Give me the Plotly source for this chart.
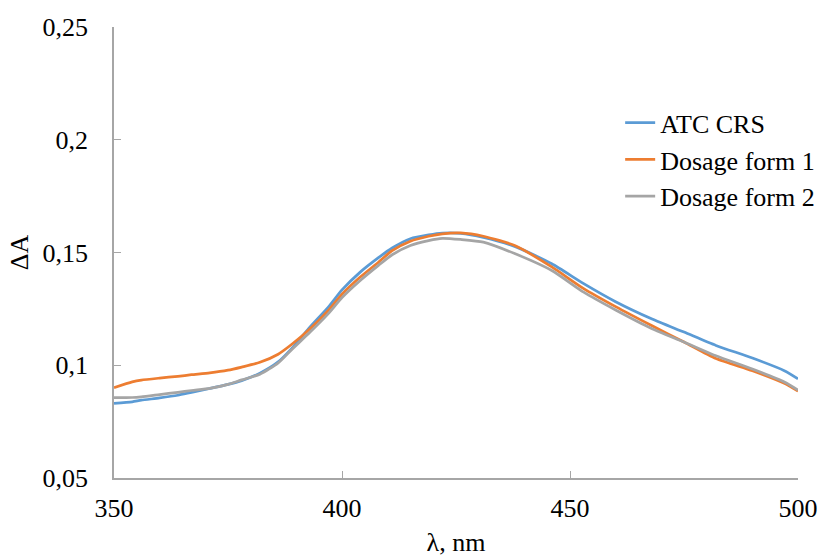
import plotly.graph_objects as go

wavelength = [350, 354, 356, 360, 364, 367, 371, 375, 378, 382, 386, 389, 393, 397, 400,
              404, 408, 411, 415, 419, 422, 426, 431, 438, 446, 453, 460, 468, 475, 482,
              490, 497, 500]

atc_crs = [0.0831, 0.0838, 0.0845, 0.0855, 0.0867, 0.0880, 0.0897, 0.0915, 0.0932, 0.0965,
           0.1015, 0.1075, 0.1170, 0.1258, 0.1334, 0.1413, 0.1477, 0.1520, 0.1561, 0.1578,
           0.1586, 0.1585, 0.1567, 0.1526, 0.1450, 0.1362, 0.1282, 0.1205, 0.1147, 0.1088,
           0.1032, 0.0976, 0.0940]

dosage_form_1 = [0.0901, 0.0926, 0.0934, 0.0943, 0.0951, 0.0958, 0.0966, 0.0978, 0.0992, 0.1013,
                 0.1049, 0.1093, 0.1162, 0.1243, 0.1315, 0.1391, 0.1457, 0.1508, 0.1550, 0.1572,
                 0.1583, 0.1587, 0.1572, 0.1530, 0.1436, 0.1340, 0.1260, 0.1175, 0.1103, 0.1030,
                 0.0976, 0.0920, 0.0885]

dosage_form_2 = [0.0857, 0.0857, 0.0860, 0.0870, 0.0880, 0.0888, 0.0897, 0.0915, 0.0935, 0.0960,
                 0.1010, 0.1070, 0.1147, 0.1229, 0.1300, 0.1376, 0.1443, 0.1490, 0.1531, 0.1553,
                 0.1563, 0.1558, 0.1546, 0.1494, 0.1420, 0.1324, 0.1245, 0.1162, 0.1103, 0.1042,
                 0.0983, 0.0926, 0.0890]

series_names = ["ATC CRS", "Dosage form 1", "Dosage form 2"]
series_values = [atc_crs, dosage_form_1, dosage_form_2]
colors = ["#5B9BD5", "#ED7D31", "#A5A5A5"]

x_ticks = [350, 400, 450, 500]
y_ticks = [0.05, 0.1, 0.15, 0.2, 0.25]

FONT = "Liberation Serif, Times New Roman, serif"
AXIS_COLOR = "#A6A6A6"
FS = 26

fig = go.Figure()
for name, vals, col in zip(series_names, series_values, colors):
    fig.add_trace(go.Scatter(
        x=wavelength, y=vals, mode="lines", name=name,
        line=dict(color=col, width=2.75, shape="spline", smoothing=0.6),
    ))

fig.update_layout(
    width=822, height=557,
    margin=dict(l=114, r=24, t=27, b=79, autoexpand=False),
    paper_bgcolor="white", plot_bgcolor="white",
    separators=", ",
    font=dict(family=FONT, size=FS, color="#000000"),
    showlegend=True,
    legend=dict(x=0.740, y=0.84, xanchor="left", yanchor="top",
                bgcolor="rgba(0,0,0,0)", font=dict(family=FONT, size=FS),
                tracegroupgap=0),
)

fig.update_xaxes(
    range=[350, 500], tickvals=x_ticks, automargin=False,
    showline=True, linecolor=AXIS_COLOR, linewidth=1.5,
    ticks="inside", ticklen=7, tickcolor=AXIS_COLOR, tickwidth=1.2,
    ticklabelstandoff=6,
    showgrid=False, zeroline=False,
    tickfont=dict(family=FONT, size=FS),
    title=dict(text="λ, nm", font=dict(family=FONT, size=FS), standoff=18),
)
fig.update_yaxes(
    range=[0.05, 0.25], tickvals=y_ticks, automargin=False,
    showline=True, linecolor=AXIS_COLOR, linewidth=1.5,
    ticks="inside", ticklen=7, tickcolor=AXIS_COLOR, tickwidth=1.2,
    ticklabelstandoff=19,
    showgrid=False, zeroline=False,
    tickfont=dict(family=FONT, size=FS),
    title=dict(text="ΔA", font=dict(family=FONT, size=FS), standoff=6),
)

fig.write_html(
    "out.html",
    config={"displayModeBar": False},
    post_script="document.body.style.margin='0';document.body.style.overflow='hidden';",
)
